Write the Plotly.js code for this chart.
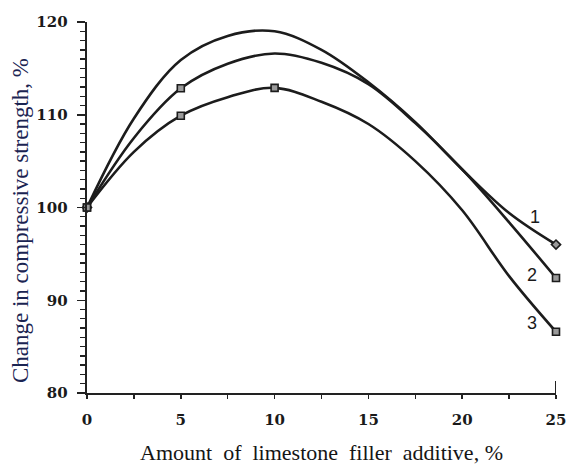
<!DOCTYPE html>
<html>
<head>
<meta charset="utf-8">
<script src="https://cdn.plot.ly/plotly-3.0.1.min.js"></script>
<style>
  html, body { margin: 0; padding: 0; background: #fff; }
  #chart { width: 566px; height: 465px; }
</style>
</head>
<body>
<div id="chart"></div>
<script>
// Amount of limestone filler additive, %
const xValues = [0, 2.5, 5, 7.5, 10, 12.5, 15, 17.5, 20, 22.5, 25];
// Change in compressive strength, % (curves 1, 2, 3)
const curve1 = [100, 109.6, 115.9, 118.5, 119.0, 117.0, 113.5, 109.2, 104.1, 99.4, 96.0];
const curve2 = [100, 107.5, 112.85, 115.5, 116.6, 115.6, 113.3, 109.1, 104.1, 98.4, 92.4];
const curve3 = [100, 106.0, 109.9, 111.9, 112.9, 111.4, 109.0, 105.0, 99.7, 92.6, 86.6];
const curveNames = ['1', '2', '3'];
// indices of points drawn with a marker on each curve
const markedIdx1 = [0, 10];
const markedIdx2 = [0, 2, 10];
const markedIdx3 = [0, 2, 4, 10];
const markerSymbols = ['diamond', 'square', 'square'];
const xTickVals = [0, 5, 10, 15, 20, 25];
const yTickVals = [80, 90, 100, 110, 120];

const curves = [curve1, curve2, curve3];
const marked = [markedIdx1, markedIdx2, markedIdx3];
const lineColor = '#1c1c1c';
const serif = "'Liberation Serif', 'Times New Roman', Times, serif";

const traces = [];
curves.forEach((ys, i) => {
  traces.push({
    x: xValues, y: ys, mode: 'lines', type: 'scatter',
    name: curveNames[i],
    line: { color: lineColor, width: 2.6, shape: 'spline', smoothing: 1.0 },
    hoverinfo: 'skip', showlegend: false
  });
});
curves.forEach((ys, i) => {
  traces.push({
    x: marked[i].map(k => xValues[k]),
    y: marked[i].map(k => ys[k]),
    mode: 'markers', type: 'scatter', cliponaxis: false,
    marker: { symbol: markerSymbols[i], size: 7, color: '#9a9a9a',
              line: { color: lineColor, width: 1.6 } },
    hoverinfo: 'skip', showlegend: false
  });
});

// curve number labels placed near the right ends
const labelX = [23.88, 23.72, 23.72];
const labelY = [98.98, 92.7, 87.55];
const annotations = curveNames.map((n, i) => ({
  x: labelX[i], y: labelY[i], xref: 'x', yref: 'y', text: n, showarrow: false,
  font: { family: "'Liberation Sans', Arial, sans-serif", size: 18, color: '#1a1a1a' }
}));
// y-axis title, placed as in the reference (slightly below the plot centre)
annotations.push({
  xref: 'paper', yref: 'paper', x: -0.1429, y: 0.466, xanchor: 'center', yanchor: 'middle',
  textangle: -90, showarrow: false, text: 'Change in compressive strength, %',
  font: { family: serif, size: 23, color: '#1b2452' }
});

const layout = {
  width: 566, height: 465,
  margin: { l: 87, r: 10, t: 22, b: 72 },
  paper_bgcolor: '#ffffff', plot_bgcolor: '#ffffff',
  showlegend: false,
  xaxis: {
    range: [0, 25], showgrid: false, zeroline: false,
    showline: true, linecolor: '#222', linewidth: 2.2,
    tickvals: xTickVals, ticks: 'outside', ticklen: 4, tickwidth: 1.5, tickcolor: '#222',
    minor: { dtick: 2.5, ticks: 'outside', ticklen: 4, tickwidth: 1.5, tickcolor: '#222' },
    ticklabelstandoff: 8, ticklabeloverflow: 'allow',
    tickfont: { family: "'DejaVu Serif', serif", size: 15, color: '#1a1a1a', weight: 'bold' },
    title: { text: 'Amount  of  limestone  filler  additive, %', standoff: 18,
             font: { family: serif, size: 22, color: '#151515' } }
  },
  yaxis: {
    range: [80, 120], showgrid: false, zeroline: false,
    showline: true, linecolor: '#222', linewidth: 2.4,
    tickvals: yTickVals, ticks: 'outside', ticklen: 8, tickwidth: 1.5, tickcolor: '#222',
    minor: { dtick: 1, ticks: 'outside', ticklen: 5, tickwidth: 1.4, tickcolor: '#222' },
    ticklabelstandoff: 6, ticklabeloverflow: 'allow',
    tickfont: { family: "'DejaVu Serif', serif", size: 15, color: '#1a1a1a', weight: 'bold' }
  },
  shapes: [
    { type: 'line', xref: 'x', yref: 'y', x0: 25, x1: 25, y0: 79.6, y1: 81.3,
      line: { color: '#222', width: 2 } }
  ],
  annotations: annotations
};

Plotly.newPlot('chart', traces, layout, { staticPlot: true, displayModeBar: false });
</script>
</body>
</html>
